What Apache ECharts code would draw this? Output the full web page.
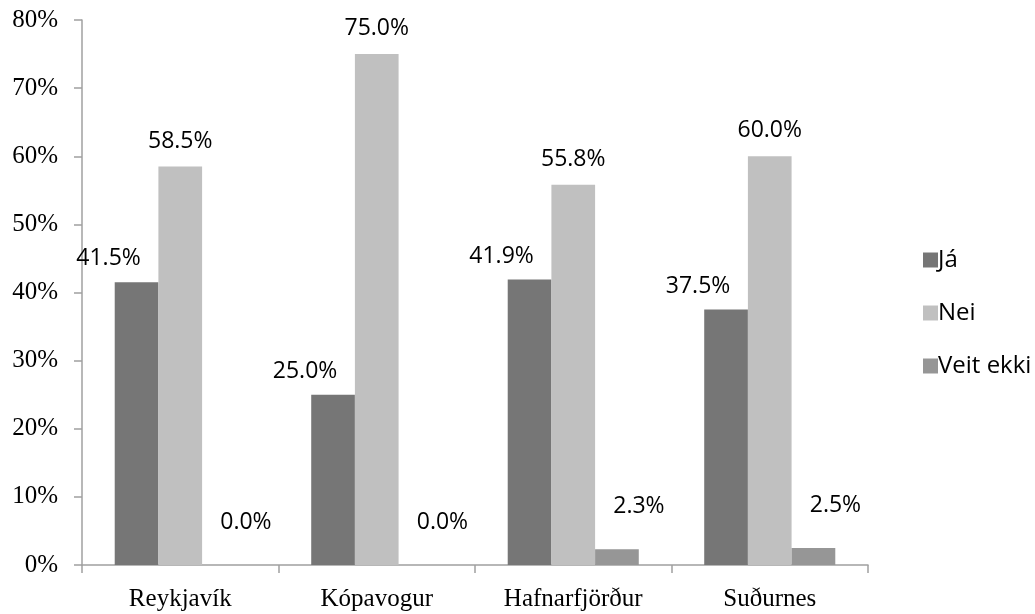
<!DOCTYPE html>
<html>
<head>
<meta charset="utf-8">
<script src="https://cdn.jsdelivr.net/npm/echarts@6/dist/echarts.min.js"></script>
<style>
html,body{margin:0;padding:0;background:#fff;}
#chart{width:1035px;height:614px;}
</style>
</head>
<body>
<div id="chart"></div>
<script>
const categories = ['Reykjavík', 'Kópavogur', 'Hafnarfjörður', 'Suðurnes'];
const seriesNames = ['Já', 'Nei', 'Veit ekki'];
const jaValues = [41.5, 25.0, 41.9, 37.5];
const neiValues = [58.5, 75.0, 55.8, 60.0];
const veitValues = [0.0, 0.0, 2.3, 2.5];
const yTicks = [0, 10, 20, 30, 40, 50, 60, 70, 80];

const colors = ['#767676', '#c0c0c0', '#969696'];
const labelOffsets = [[-28, -7], [0, -9], [22, -26]];
const valuesList = [jaValues, neiValues, veitValues];

const chart = echarts.init(document.getElementById('chart'));
const labelFont = '"Open Sans", "Noto Sans", sans-serif';
const serifFont = '"Liberation Serif", "DejaVu Serif", serif';

chart.setOption({
  animation: false,
  backgroundColor: '#ffffff',
  grid: { left: 82, right: 167, top: 20, bottom: 49, containLabel: false },
  legend: {
    orient: 'vertical',
    left: 918,
    top: 243,
    itemWidth: 15,
    itemHeight: 15,
    itemGap: 29,
    icon: 'rect',
    textStyle: { fontFamily: labelFont, fontSize: 24, color: '#000', padding: [0, 0, 0, -5] },
    data: seriesNames
  },
  xAxis: {
    type: 'category',
    data: categories,
    axisLine: { show: true, lineStyle: { color: '#a0a0a0', width: 1.5 } },
    axisTick: { show: true, length: 8, alignWithLabel: false, lineStyle: { color: '#a0a0a0', width: 1.5 } },
    axisLabel: { fontFamily: serifFont, fontSize: 25, color: '#000', margin: 22 }
  },
  yAxis: {
    type: 'value',
    min: yTicks[0],
    max: yTicks[yTicks.length - 1],
    interval: yTicks[1] - yTicks[0],
    splitLine: { show: false },
    axisLine: { show: true, lineStyle: { color: '#a0a0a0', width: 1.5 } },
    axisTick: { show: true, length: 8, lineStyle: { color: '#a0a0a0', width: 1.5 } },
    axisLabel: { fontFamily: serifFont, fontSize: 25, color: '#000', margin: 24, formatter: '{value}%' }
  },
  series: seriesNames.map((name, i) => ({
    name: name,
    type: 'bar',
    data: valuesList[i],
    barGap: '0%',
    barCategoryGap: '33.3%',
    itemStyle: { color: colors[i] },
    label: {
      show: true,
      position: 'top',
      distance: 5,
      offset: labelOffsets[i],
      fontFamily: labelFont,
      fontSize: 23,
      color: '#000',
      formatter: p => p.value.toFixed(1) + '%'
    }
  }))
});
</script>
</body>
</html>
